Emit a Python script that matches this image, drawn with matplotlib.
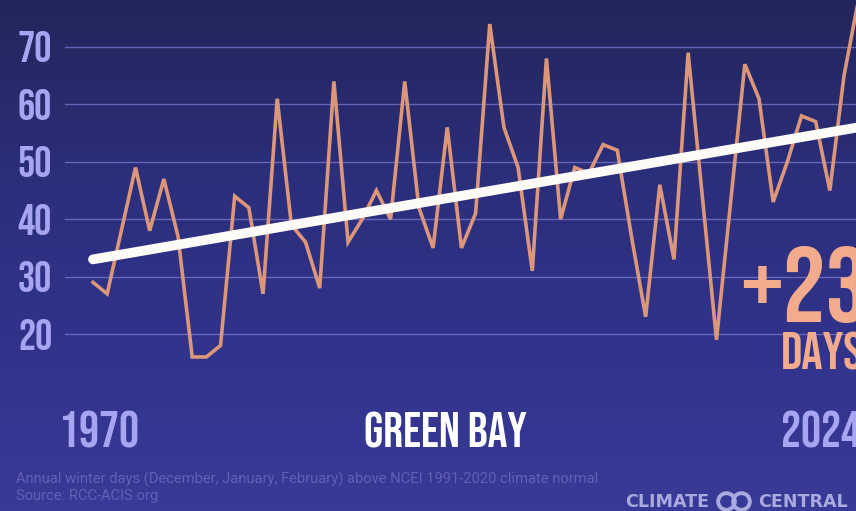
import numpy as np
import matplotlib
matplotlib.use("Agg")
import matplotlib.pyplot as plt
from matplotlib.colors import LinearSegmentedColormap

# Green Bay: winter days above the 1991-2020 normal
years = list(range(1970, 2025))
days_above = [
    29, 27, 38, 49, 38, 47, 37, 16, 16, 18,
    44, 42, 27, 61, 39, 36, 28, 64, 36, 40,
    45, 40, 64, 42, 35, 56, 35, 41, 74, 56,
    49, 31, 68, 40, 49, 48, 53, 52, 37, 23,
    46, 33, 69, 44, 19, 43, 67, 61, 43, 50,
    58, 57, 45, 65, 78,
]
trend_years = [1970, 2024]
trend_values = [33, 56]
y_ticks = [20, 30, 40, 50, 60, 70]
city = "GREEN BAY"
note_lines = [
    "Annual winter days (December, January, February) above NCEI 1991-2020 climate normal",
    "Source: RCC-ACIS.org",
]

W, H = 856, 511
DISPLAY = ["Bebas Neue", "Oswald", "DejaVu Sans"]
LAVENDER = "#a7a5f2"
SALMON = "#dc967a"

fig = plt.figure(figsize=(W / 100, H / 100), dpi=100)
ax = fig.add_axes([0, 0, 1, 1])

# data <-> pixel layout: 1970 sits 93 px from the left, 14.17 px per year;
# the 70 gridline sits 47 px from the top, 5.74 px per day
px_per_year = 14.17
px_per_day = 5.74
x_left = 1970 - 93 / px_per_year
y_top = 70 + 47 / px_per_day
ax.set_xlim(x_left, x_left + W / px_per_year)
ax.set_ylim(y_top - H / px_per_day, y_top)
ax.axis("off")

# background gradient, dark navy at the top to indigo at the bottom
bg = LinearSegmentedColormap.from_list(
    "bg", ["#23265a", "#2b2e7a", "#31338b", "#383a97"])
grad = np.linspace(0, 1, 256).reshape(-1, 1)
ax.imshow(grad, cmap=bg, aspect="auto", extent=[*ax.get_xlim(), *ax.get_ylim()],
          origin="upper", zorder=0)

def fx(px):
    return px / W

def fy(py):
    return 1 - py / H

# gridlines and y labels
for v in y_ticks:
    ax.axhline(v, xmin=fx(65), xmax=1, color="#7a77cf", lw=1.0, alpha=0.75, zorder=1)
    ax.text(fx(35), v, str(v), transform=ax.get_yaxis_transform(),
            ha="center", va="center", fontsize=31, color=LAVENDER,
            family=DISPLAY, zorder=2)

# yearly series and trend
ax.plot(years, days_above, color=SALMON, lw=2.6, solid_joinstyle="miter",
        zorder=3)
ax.plot(trend_years, trend_values, color="#fdfbf7", lw=7, solid_capstyle="round",
        zorder=4)

# change label
change = trend_values[1] - trend_values[0]
fig.text(fx(740), fy(322), f"+{change}", ha="left", va="baseline",
         fontsize=77, color="#f3ab8d", family=DISPLAY, zorder=5)
fig.text(fx(781), fy(370), "DAYS", ha="left", va="baseline",
         fontsize=38, color="#f3ab8d", family=DISPLAY, zorder=5)

# bottom labels
fig.text(fx(99), fy(447), str(years[0]), ha="center", va="baseline",
         fontsize=36, color=LAVENDER, family=DISPLAY)
fig.text(fx(821), fy(447), str(years[-1]), ha="center", va="baseline",
         fontsize=36, color=LAVENDER, family=DISPLAY)
fig.text(fx(445), fy(447), city, ha="center", va="baseline",
         fontsize=35.5, color="white", family=DISPLAY)

# footnote
NOTE_FONT = ["Roboto", "DejaVu Sans"]
fig.text(fx(16), fy(484), note_lines[0], ha="left", va="baseline",
         fontsize=10.6, color="#6160b2", family=NOTE_FONT)
fig.text(fx(16), fy(500), note_lines[1], ha="left", va="baseline",
         fontsize=10.6, color="#6160b2", family=NOTE_FONT)

# logo
LOGO = "#a9aadf"
LOGO_FONT = ["DejaVu Sans"]
fig.text(fx(625), fy(507), "CLIMATE", ha="left", va="baseline", fontsize=12.6,
         fontweight="bold", color=LOGO, family=LOGO_FONT)
fig.text(fx(758), fy(507), "CENTRAL", ha="left", va="baseline", fontsize=12.6,
         fontweight="bold", color=LOGO, family=LOGO_FONT)
ax.plot([fx(726), fx(741)], [fy(501), fy(501)], "o", ms=12, mfc="none",
        mec=LOGO, mew=2.8, transform=fig.transFigure, clip_on=False)

fig.savefig("out.png", dpi=100)
